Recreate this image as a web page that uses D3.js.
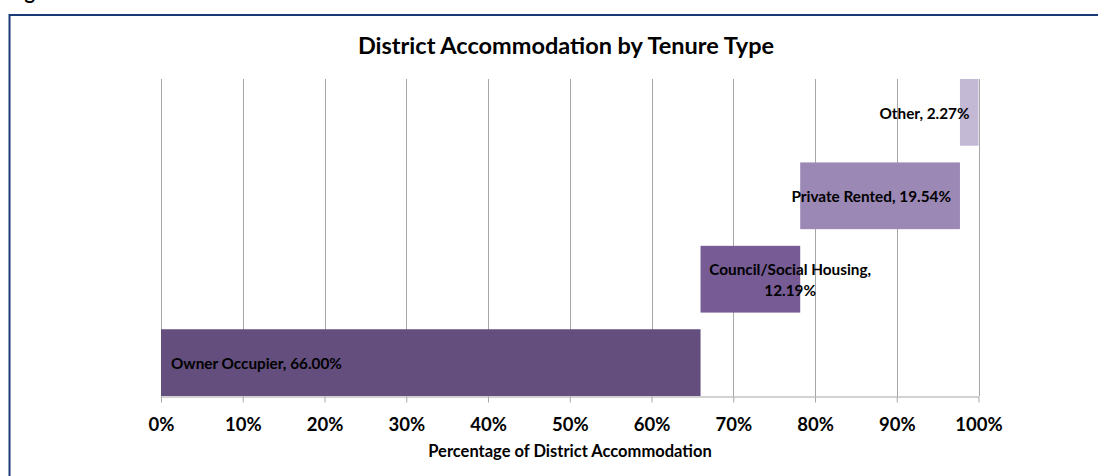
<!DOCTYPE html>
<html>
<head>
<meta charset="utf-8">
<script src="https://cdn.jsdelivr.net/npm/d3@7"></script>
<style>
  html, body { margin: 0; padding: 0; background: #fff; overflow: hidden; }
  svg { display: block; font-family: Lato, "Open Sans", sans-serif; }
</style>
</head>
<body>
<div id="chart"></div>
<script>
// data ________________________________________________________________________
const categories = ['Owner Occupier', 'Council/Social Housing', 'Private Rented', 'Other'];
const shares = [66.00, 12.19, 19.54, 2.27];
const barColors = ['#634e7d', '#765b95', '#9c88b4', '#c3b9d4'];
const tickValues = [0, 10, 20, 30, 40, 50, 60, 70, 80, 90, 100];

const width = 1098;
const height = 476;
const margin = {top: 79, left: 161, bottom: 80, right: 119.5};

// each bar starts where the previous one ended (stacked waterfall)
const ends = d3.cumsum(shares);
const rows = categories.map((c, i) => ({
    name: c,
    value: shares[i],
    start: ends[i] - shares[i],
    end: ends[i],
    color: barColors[i]
}));

const x = d3.scaleLinear()
    .domain([0, 100])
    .range([margin.left, width - margin.right]);

// first category sits at the bottom, like Excel's bar chart
const y = d3.scaleBand()
    .domain(categories.slice().reverse())
    .range([margin.top, height - margin.bottom])
    .paddingInner(0.2)
    .paddingOuter(0);

const svg = d3.select('#chart').append('svg')
    .attr('width', width)
    .attr('height', height);

// caption cut at the top of the page
svg.append('text')
    .attr('x', 8)
    .attr('y', -1)
    .attr('font-size', 20)
    .attr('font-weight', 'bold')
    .attr('fill', '#000')
    .text('Figure 5');

// chart frame
svg.append('rect')
    .attr('x', 9.5)
    .attr('y', 15)
    .attr('width', width + 20)
    .attr('height', height + 20)
    .attr('fill', 'none')
    .attr('stroke', '#1b3a78')
    .attr('stroke-width', 2);

// grid
svg.append('g')
    .selectAll('line').data(tickValues).enter().append('line')
    .attr('x1', d => Math.round(x(d)) + 0.5)
    .attr('x2', d => Math.round(x(d)) + 0.5)
    .attr('y1', margin.top)
    .attr('y2', height - margin.bottom)
    .attr('stroke', '#a6a6a6')
    .attr('stroke-width', 1);

// bars
svg.append('g')
    .selectAll('rect').data(rows).enter().append('rect')
    .attr('x', d => x(d.start))
    .attr('y', d => y(d.name))
    .attr('width', d => x(d.end) - x(d.start))
    .attr('height', y.bandwidth())
    .attr('fill', d => d.color);

// x axis
const xAxis = g => g
    .attr('transform', `translate(0, ${height - margin.bottom + 0.5})`)
    .call(d3.axisBottom(x)
        .tickValues(tickValues)
        .tickFormat(d => d + '%')
        .tickSizeInner(6)
        .tickSizeOuter(0))
    .call(g => g.select('.domain').attr('stroke', '#a6a6a6'))
    .call(g => g.selectAll('.tick line').attr('stroke', '#a6a6a6'))
    .call(g => g.selectAll('.tick text')
        .attr('y', 34)
        .attr('dy', 0)
        .attr('fill', '#000')
        .attr('font-family', 'Lato, "Open Sans", sans-serif')
        .attr('font-size', 18.5)
        .attr('font-weight', 'bold'));

svg.append('g').call(xAxis);

// titles
svg.append('text')
    .attr('x', 566)
    .attr('y', 54)
    .attr('text-anchor', 'middle')
    .attr('font-size', 23.5)
    .attr('font-weight', 'bold')
    .attr('fill', '#000')
    .text('District Accommodation by Tenure Type');

svg.append('text')
    .attr('x', 570)
    .attr('y', 457)
    .attr('text-anchor', 'middle')
    .attr('font-size', 16.5)
    .attr('font-weight', 'bold')
    .attr('fill', '#000')
    .text('Percentage of District Accommodation');

// data labels
const labels = svg.append('g')
    .attr('font-size', 15.3)
    .attr('font-weight', 'bold')
    .attr('fill', '#000');

rows.forEach((d, i) => {
    const mid = y(d.name) + y.bandwidth() / 2;
    const txt = `${d.name}, ${d.value.toFixed(2)}%`;
    if (i === 0) {
        // inside base
        labels.append('text')
            .attr('x', x(d.start) + 10)
            .attr('y', mid + 6)
            .text(txt);
    } else if (i === 1) {
        // wrapped on two lines
        const t = labels.append('text')
            .attr('text-anchor', 'middle');
        t.append('tspan')
            .attr('x', x(d.end) - 10)
            .attr('y', mid - 4)
            .text(d.name + ',');
        t.append('tspan')
            .attr('x', x(d.end) - 10)
            .attr('y', mid + 16.5)
            .text(d.value.toFixed(2) + '%');
    } else {
        // inside end
        labels.append('text')
            .attr('x', x(d.end) - 9)
            .attr('y', mid + 6.5)
            .attr('text-anchor', 'end')
            .text(txt);
    }
});
</script>
</body>
</html>
